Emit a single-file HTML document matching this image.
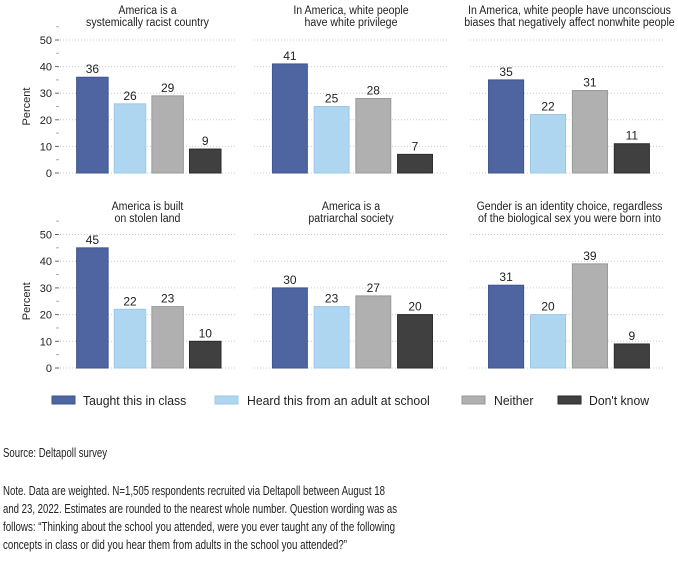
<!DOCTYPE html>
<html><head><meta charset="utf-8"><style>
body{margin:0;background:#fff;}
svg{display:block;font-family:"Liberation Sans",Arial,sans-serif;}
</style></head><body>
<svg id="chart" width="678" height="568" viewBox="0 0 678 568" xmlns="http://www.w3.org/2000/svg"></svg>
<script>
const categories = ["Taught this in class","Heard this from an adult at school","Neither","Don't know"];
const panelTitles = [
  ["America is a","systemically racist country"],
  ["In America, white people","have white privilege"],
  ["In America, white people have unconscious","biases that negatively affect nonwhite people"],
  ["America is built","on stolen land"],
  ["America is a","patriarchal society"],
  ["Gender is an identity choice, regardless","of the biological sex you were born into"]
];
const panelValues = [
  [36,26,29,9],
  [41,25,28,7],
  [35,22,31,11],
  [45,22,23,10],
  [30,23,27,20],
  [31,20,39,9]
];
const yTicks = [0,10,20,30,40,50];

const svg = document.getElementById('chart');
const NS = "http://www.w3.org/2000/svg";
function mk(tag, attrs, parent){const e=document.createElementNS(NS,tag);for(const k in attrs)e.setAttribute(k,attrs[k]);(parent||svg).appendChild(e);return e;}
function squeeze(t,f){const l=t.getComputedTextLength();if(l>0){t.setAttribute('textLength',l*f);t.setAttribute('lengthAdjust','spacingAndGlyphs');}}
const fills=["#4f65a1","#afd6f1","#b0b0b0","#404040"];
const strokes=["#3f5490","#9cc8e8","#999","#2a2a2a"];
const cols=[{x0:60,w:175},{x0:254,w:194},{x0:470,w:195}];
const rows=[{y0:173,y50:40,t:10},{y0:368,y50:234.5,t:206}];
for(let p=0;p<6;p++){
  const c=cols[p%3], r=rows[Math.floor(p/3)];
  const g=mk('g',{});
  
  
  const y=v=>r.y0-(v/50)*(r.y0-r.y50);
  const cx=c.x0+c.w/2+(p%3===2?2:0);
  panelTitles[p].forEach((line,i)=>{
    const t=mk('text',{x:cx,y:r.t+4+i*12,'text-anchor':'middle','font-size':'11.5',fill:'#222'},g);
    
    
    t.textContent=line;
    squeeze(t,0.92);
  });
  yTicks.forEach(v=>{
    mk('line',{x1:c.x0,x2:c.x0+c.w,y1:y(v),y2:y(v),stroke:'#ccc','stroke-width':'1','stroke-dasharray':'1,2'},g);
  });
  if(p%3===0){
    yTicks.forEach(v=>{
      mk('line',{x1:55,x2:59,y1:y(v),y2:y(v),stroke:'#666'},g);
      mk('line',{x1:56,x2:59,y1:y(v+5),y2:y(v+5),stroke:'#aaa'},g);
      const t=mk('text',{x:52,y:y(v)+4,'text-anchor':'end','font-size':'11',fill:'#222'},g);
      
      
      t.textContent=v;
    });
    const mid=(r.y0+r.y50)/2;
    const yt=mk('text',{x:0,y:0,transform:`translate(30,${mid}) rotate(-90)`,'text-anchor':'middle','font-size':'11',fill:'#222'},g);
    
    
    yt.textContent='Percent';
  }
  const off=0.095*c.w, step=0.215*c.w, bw=0.18*c.w;
  panelValues[p].forEach((v,i)=>{
    const bx=c.x0+off+i*step;
    const b=mk('rect',{x:bx,y:y(v),width:bw,height:r.y0-y(v),fill:fills[i],stroke:strokes[i],'stroke-width':'1'},g);
    
    
    const t=mk('text',{x:bx+bw/2,y:y(v)-4,'text-anchor':'middle','font-size':'12',fill:'#222'},g);
    
    
    t.textContent=v;
  });
}
const legX=[[52,83],[215,247],[462,494],[558,589]];
categories.forEach((cat,i)=>{
  const g=mk('g',{});
  
  
  mk('rect',{x:legX[i][0],y:396,width:23,height:8,fill:fills[i],stroke:strokes[i]},g);
  const t=mk('text',{x:legX[i][1],y:405,'font-size':'13',fill:'#222'},g);
  t.textContent=cat;
  squeeze(t,0.94);
});
const notes=[
  ["Source: Deltapoll survey",457,107],
  ["Note. Data are weighted. N=1,505 respondents recruited via Deltapoll between August 18",495,385],
  ["and 23, 2022. Estimates are rounded to the nearest whole number. Question wording was as",513,397],
  ["follows: \u201cThinking about the school you attended, were you ever taught any of the following",531,395],
  ["concepts in class or did you hear them from adults in the school you attended?\u201d",549,347]
];
notes.forEach((n,i)=>{
  const t=mk('text',{x:3,y:n[1],'font-size':'12.5',fill:'#222',textLength:n[2]-3,lengthAdjust:'spacingAndGlyphs'});
  
  
  t.textContent=n[0];
});
</script>
</body></html>
